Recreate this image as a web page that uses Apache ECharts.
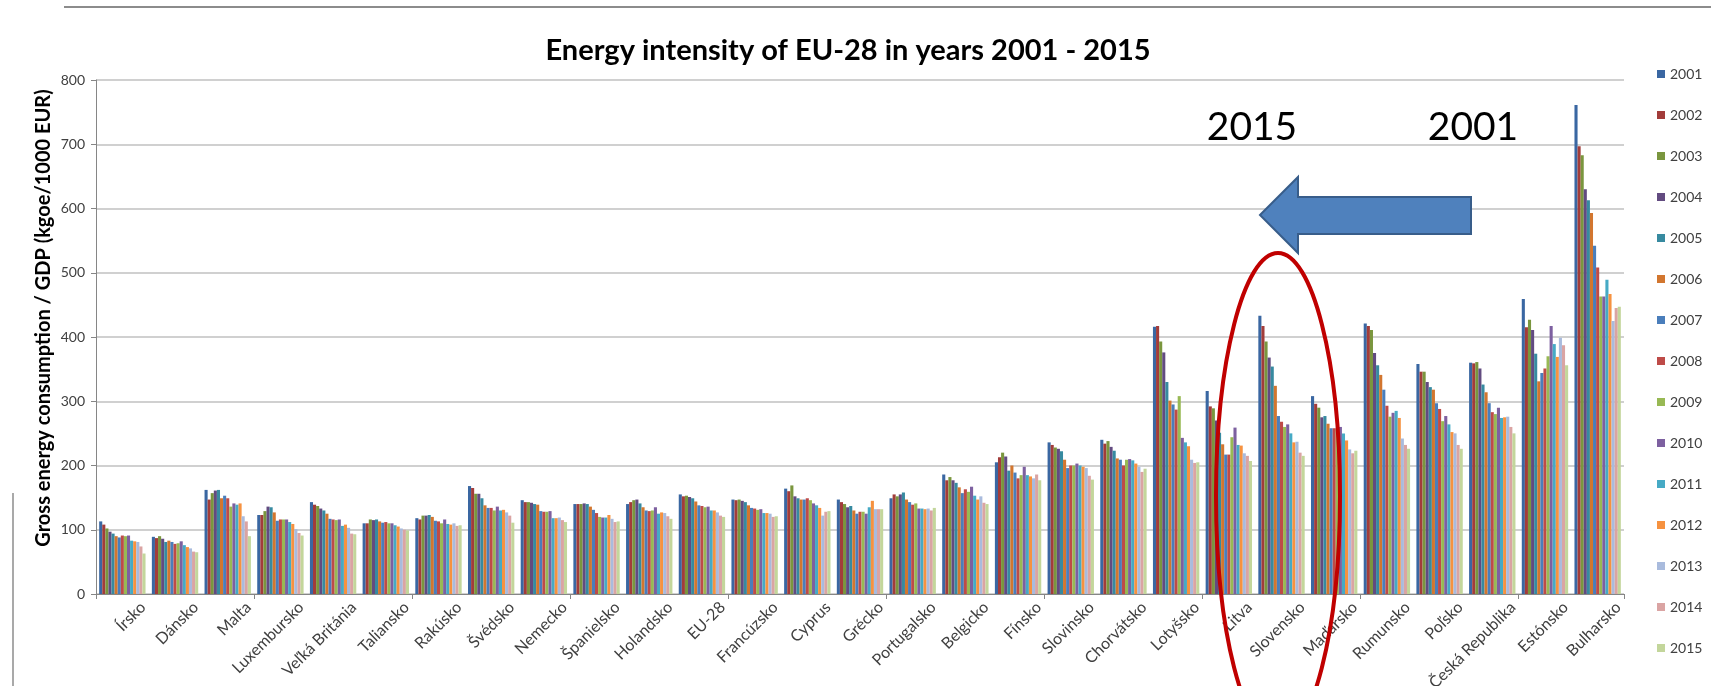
<!DOCTYPE html>
<html><head><meta charset="utf-8">
<script src="https://cdn.jsdelivr.net/npm/echarts@6/dist/echarts.min.js"></script>
<style>html,body{margin:0;padding:0;background:#fff}#c{width:1711px;height:686px}</style>
</head><body><div id="c"></div><script>
const categories = ['Írsko','Dánsko','Malta','Luxembursko','Veľká Británia','Taliansko','Rakúsko','Švédsko','Nemecko','Španielsko','Holandsko','EU-28','Francúzsko','Cyprus','Grécko','Portugalsko','Belgicko','Fínsko','Slovinsko','Chorvátsko','Lotyšsko','Litva','Slovensko','Maďarsko','Rumunsko','Poľsko','Česká Republika','Estónsko','Bulharsko'];
const years = ['2001','2002','2003','2004','2005','2006','2007','2008','2009','2010','2011','2012','2013','2014','2015'];
const yTicks = [0,100,200,300,400,500,600,700,800];

const y2001 = [113,89,162,123,143,110,118,168,146,140,140,155,147,164,147,149,186,205,236,240,416,316,433,308,421,358,360,459,761];
const y2002 = [108,87,147,123,139,110,116,165,143,140,143,152,146,160,143,155,177,213,232,234,417,292,417,296,417,346,359,415,697];
const y2003 = [102,90,157,129,137,116,122,156,143,140,146,153,147,169,140,152,182,220,228,238,393,289,393,290,411,346,361,427,683];
const y2004 = [97,86,161,136,133,115,122,156,142,141,147,151,145,152,135,155,177,214,226,229,376,270,368,275,375,330,351,411,630];
const y2005 = [94,81,162,135,130,116,123,149,140,140,141,149,143,149,137,158,173,192,222,223,330,251,354,277,356,322,326,374,613];
const y2006 = [90,83,149,127,125,113,120,138,139,136,135,144,138,147,130,147,166,200,209,211,301,233,324,265,341,318,314,331,593];
const y2007 = [88,81,153,114,117,111,114,134,129,131,130,138,134,147,125,143,157,189,196,209,295,217,277,258,318,297,297,344,542];
const y2008 = [91,78,149,116,116,112,113,134,128,126,129,137,133,149,128,139,163,180,200,200,287,217,268,258,293,288,283,351,508];
const y2009 = [90,79,136,116,115,110,110,130,128,120,130,135,131,146,128,141,159,185,200,209,308,244,260,256,276,269,280,370,463];
const y2010 = [91,82,141,116,116,110,116,136,129,119,135,136,132,141,125,133,167,198,203,210,243,259,264,260,282,277,290,417,463];
const y2011 = [83,76,139,112,106,107,109,130,118,119,125,130,126,138,135,133,153,185,200,208,236,232,250,250,285,264,274,389,489];
const y2012 = [82,73,141,109,108,105,108,131,118,123,127,130,126,134,145,132,147,183,198,203,230,231,236,239,274,252,275,369,467];
const y2013 = [81,71,121,101,103,102,110,127,119,117,126,127,125,122,132,133,152,180,196,198,209,219,237,225,242,250,276,399,425];
const y2014 = [74,66,113,95,94,100,106,122,115,112,121,122,120,128,132,130,142,186,184,190,204,215,220,219,232,232,260,387,445];
const y2015 = [63,65,90,91,93,99,107,111,112,113,117,120,121,129,132,134,140,177,178,195,205,207,215,223,226,226,250,356,447];

const seriesValues = [y2001,y2002,y2003,y2004,y2005,y2006,y2007,y2008,y2009,y2010,y2011,y2012,y2013,y2014,y2015];
const colors = ['#3a67a2','#a23c3a','#7a963e','#624b80','#378aa0','#d2762f','#4a7ebb','#be4b48','#98b954','#7d60a0','#46aac5','#f69240','#a9bbdd','#daa4a3','#c3d69b'];

const chart = echarts.init(document.getElementById('c'));
const txt = '#404040';
const baseGraphics = [
  { type: 'line', z: 100, shape: { x1: 64, y1: 7, x2: 1711, y2: 7 }, style: { stroke: '#8c8c8c', lineWidth: 2 } },
  { type: 'line', z: 100, shape: { x1: 13, y1: 493, x2: 13, y2: 686 }, style: { stroke: '#8c8c8c', lineWidth: 1.5 } },
  { type: 'text', z: 100, x: 44, y: 318, rotation: Math.PI / 2,
    style: { text: 'Gross energy consumption / GDP (kgoe/1000 EUR)', fontFamily: 'Lato', fontWeight: 'bold', fontSize: 20, fill: '#000', textAlign: 'center', textVerticalAlign: 'middle' } },
  { type: 'text', z: 100, x: 1252, y: 127,
    style: { text: '2015', fontFamily: 'Lato', fontSize: 39, fill: '#000', textAlign: 'center', textVerticalAlign: 'middle' } },
  { type: 'text', z: 100, x: 1473, y: 127,
    style: { text: '2001', fontFamily: 'Lato', fontSize: 39, fill: '#000', textAlign: 'center', textVerticalAlign: 'middle' } },
  { type: 'polygon', z: 100,
    shape: { points: [[1260,215],[1298,177],[1298,197],[1471,197],[1471,234],[1298,234],[1298,253]] },
    style: { fill: '#4f81bd', stroke: '#385d8a', lineWidth: 2 } },
  { type: 'ellipse', z: 100,
    shape: { cx: 1278, cy: 496, rx: 62, ry: 243 },
    style: { fill: 'rgba(0,0,0,0)', stroke: '#c00000', lineWidth: 4 } }
];
const option = {
  animation: false,
  backgroundColor: '#ffffff',
  color: colors,
  textStyle: { fontFamily: 'Lato' },
  title: {
    text: 'Energy intensity of EU-28 in years 2001 - 2015',
    left: 843, top: 31, textAlign: 'center',
    textStyle: { fontFamily: 'Lato', fontWeight: 'bold', fontSize: 29, color: '#000' }
  },
  legend: {
    orient: 'vertical', left: 1652, top: 62,
    itemWidth: 8, itemHeight: 8, itemGap: 27, icon: 'rect',
    textStyle: { fontSize: 14, color: txt, fontFamily: 'Lato' },
    data: years
  },
  grid: { left: 96, right: 87, top: 80, bottom: 92 },
  xAxis: {
    type: 'category', data: categories,
    axisLine: { lineStyle: { color: '#868686', width: 1 } },
    axisTick: { show: true, length: 5, lineStyle: { color: '#868686' } },
    axisLabel: { show: false }
  },
  yAxis: {
    type: 'value', min: yTicks[0], max: yTicks[yTicks.length-1], interval: 100,
    axisLine: { show: true, lineStyle: { color: '#868686' } },
    axisTick: { show: true, length: 5, lineStyle: { color: '#868686' } },
    axisLabel: { fontSize: 14, color: txt, margin: 11, fontFamily: 'Lato' },
    splitLine: { lineStyle: { color: '#c0c0c0', width: 1.5 } }
  },
  series: years.map((y, i) => ({
    name: y, type: 'bar', data: seriesValues[i],
    barGap: '0%', barCategoryGap: '12%',
    itemStyle: { color: colors[i] }
  })),
  graphic: baseGraphics
};
chart.setOption(option);

// category labels, rotated 45°, anchored by their top-right corner just right of each category centre
const axisY = chart.convertToPixel({ yAxisIndex: 0 }, 0);
const labelGraphics = categories.map((c, i) => ({
  type: 'text', z: 50,
  x: chart.convertToPixel({ xAxisIndex: 0 }, i) + 15,
  y: axisY + 5,
  rotation: Math.PI / 4,
  style: { text: c, fontFamily: 'Lato', fontSize: 16, fill: txt, textAlign: 'right', textVerticalAlign: 'top' }
}));
chart.setOption({ graphic: baseGraphics.concat(labelGraphics) });
</script></body></html>
